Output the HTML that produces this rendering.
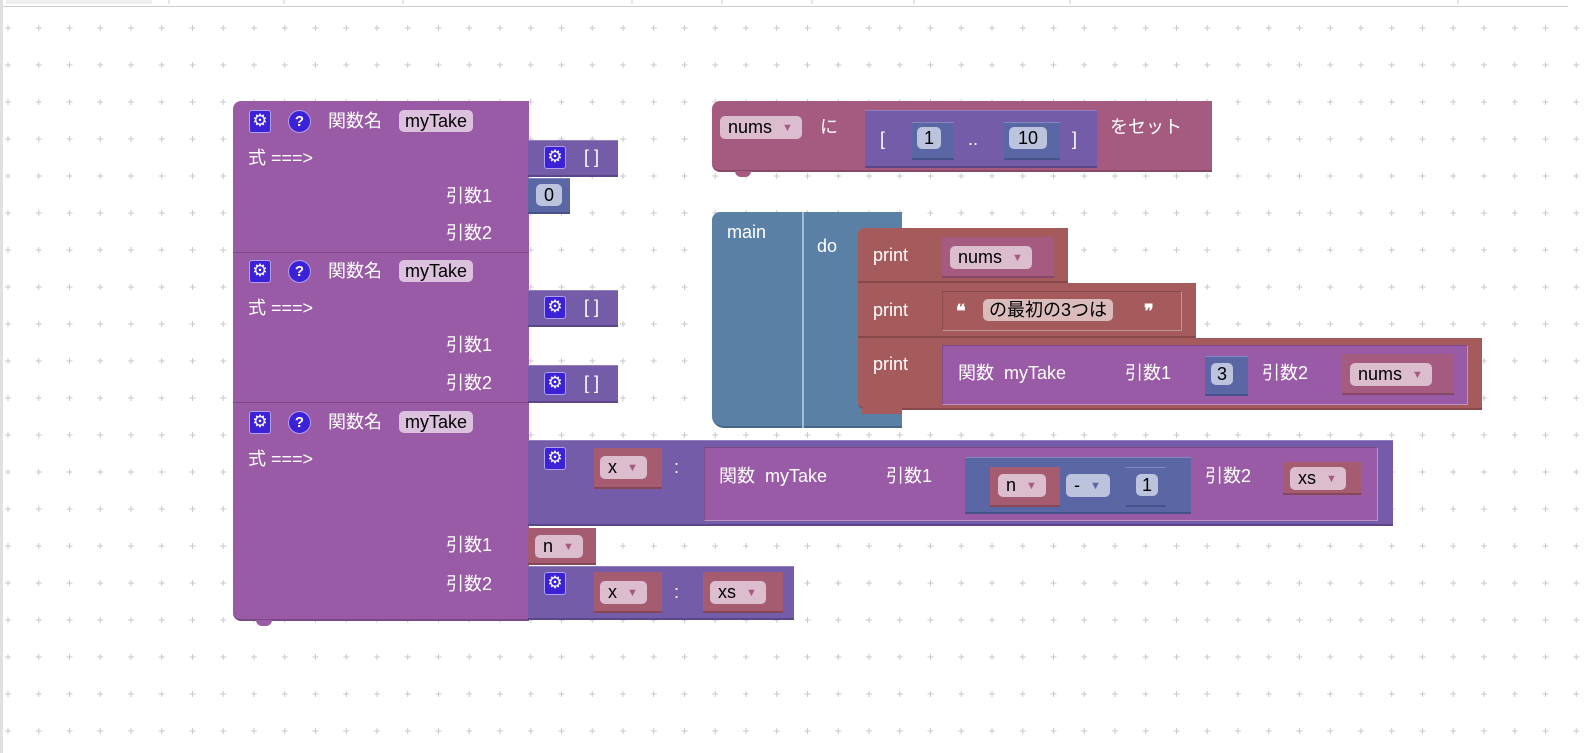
<!DOCTYPE html>
<html><head><meta charset="utf-8">
<style>
body{margin:0;width:1594px;height:753px;overflow:hidden;background:#fff;font-family:"Liberation Sans","Noto Sans CJK JP",sans-serif;position:relative}
.a{position:absolute;box-sizing:border-box}
.t{position:absolute;color:#fff;font-size:18px;line-height:22px;white-space:nowrap}
.fn{background:#995ba5;border-bottom:2px solid #7a4884}
.ls{background:#745ca8;border-bottom:2px solid #5a4688;border-top:1px solid #9080c0}
.nm{background:#5b67a5;border-bottom:2px solid #48528a;border-top:1px solid #8088c0}
.vr{background:#a55b80;border-bottom:2px solid #864868}
.vx{background:#a55b70;border-bottom:2px solid #864858}
.pr{background:#a55b5b;border-bottom:2px solid #864848}
.mn{background:#5b80a5;border-bottom:2px solid #486688}
.f{position:absolute;border-radius:5px;color:#000;font-size:18px;line-height:22px;padding:0 9px 0 8px;white-space:nowrap}
.fv{background:#dbbdcd}
.fn2{background:#dcc1df}
.fnum{background:#bcc3dc}
.fs{background:#dbbcbc}
.dd{color:#a55b80;font-size:11px;margin-left:10px;vertical-align:2px}
.g{position:absolute;width:22px;height:23px;background:#3b22d6;border:1px solid #b0a0f0;border-radius:3px;box-sizing:border-box;color:#fff;font-family:"DejaVu Sans",sans-serif;font-size:17px;line-height:20px;text-align:center}
.q{position:absolute;width:23px;height:23px;background:#3b22d6;border:1px solid #b0a0f0;border-radius:50%;box-sizing:border-box;color:#fff;font-weight:bold;font-size:15px;line-height:21px;text-align:center}
.in{position:absolute;border:1px solid rgba(255,255,255,.35);border-left-color:rgba(0,0,0,.15);border-top-color:rgba(0,0,0,.2)}
</style></head><body>
<svg class="a" style="left:0;top:0" width="1594" height="753">
<defs><pattern id="p" patternUnits="userSpaceOnUse" x="4" y="24" width="30.75" height="37">
<path d="M4 1v6M1 4h6" stroke="#c8c8c8" stroke-width="1"/></pattern></defs>
<rect x="0" y="0" width="1594" height="753" fill="url(#p)"/>
<rect x="0" y="0" width="1594" height="6" fill="#fff"/>
<line x1="0" y1="6.5" x2="1568" y2="6.5" stroke="#ccc"/>
<rect x="6" y="0" width="146" height="4" fill="#eee"/>
<rect x="0" y="0" width="3" height="753" fill="#e0e0e0"/>
<g stroke="#ccc"><line x1="169" y1="0" x2="169" y2="4"/><line x1="284" y1="0" x2="284" y2="4"/><line x1="403" y1="0" x2="403" y2="4"/><line x1="632" y1="0" x2="632" y2="4"/><line x1="722" y1="0" x2="722" y2="4"/><line x1="812" y1="0" x2="812" y2="4"/><line x1="914" y1="0" x2="914" y2="4"/><line x1="1070" y1="0" x2="1070" y2="4"/><line x1="1458" y1="0" x2="1458" y2="4"/></g>
</svg>

<!-- function def blocks -->
<div class="a fn" style="left:233px;top:101px;width:296px;height:152px;border-radius:8px 0 0 0;border-bottom:1px solid #7a4884"></div>
<div class="a fn" style="left:233px;top:253px;width:296px;height:150px;border-bottom:1px solid #7a4884"></div>
<div class="a fn" style="left:233px;top:403px;width:296px;height:218px;border-radius:0 0 0 8px"></div>
<div class="a" style="left:256px;top:620px;width:16px;height:6px;background:#995ba5;border-radius:0 0 6px 6px"></div>

<div class="g" style="left:249px;top:110px">⚙</div><div class="q" style="left:288px;top:110px">?</div>
<div class="t" style="left:328px;top:110px">関数名</div><div class="f fn2" style="left:399px;top:110px;padding:0 6px">myTake</div>
<div class="t" style="left:248px;top:147px">式 ===&gt;</div>
<div class="t" style="left:446px;top:185px">引数1</div><div class="t" style="left:446px;top:222px">引数2</div>

<div class="g" style="left:249px;top:260px">⚙</div><div class="q" style="left:288px;top:260px">?</div>
<div class="t" style="left:328px;top:260px">関数名</div><div class="f fn2" style="left:399px;top:260px;padding:0 6px">myTake</div>
<div class="t" style="left:248px;top:297px">式 ===&gt;</div>
<div class="t" style="left:446px;top:334px">引数1</div><div class="t" style="left:446px;top:372px">引数2</div>

<div class="g" style="left:249px;top:411px">⚙</div><div class="q" style="left:288px;top:411px">?</div>
<div class="t" style="left:328px;top:411px">関数名</div><div class="f fn2" style="left:399px;top:411px;padding:0 6px">myTake</div>
<div class="t" style="left:248px;top:448px">式 ===&gt;</div>
<div class="t" style="left:446px;top:534px">引数1</div><div class="t" style="left:446px;top:573px">引数2</div>

<!-- attached -->
<div class="a ls" style="left:528px;top:140px;width:90px;height:37px"></div>
<div class="g" style="left:544px;top:146px">⚙</div><div class="t" style="left:584px;top:146px">[ ]</div>
<div class="a nm" style="left:528px;top:178px;width:42px;height:36px"></div>
<div class="f fnum" style="left:536px;top:184px;padding:0 8px">0</div>

<div class="a ls" style="left:528px;top:290px;width:90px;height:37px"></div>
<div class="g" style="left:544px;top:296px">⚙</div><div class="t" style="left:584px;top:296px">[ ]</div>
<div class="a ls" style="left:528px;top:365px;width:90px;height:38px"></div>
<div class="g" style="left:544px;top:372px">⚙</div><div class="t" style="left:584px;top:372px">[ ]</div>

<div class="a ls" style="left:528px;top:440px;width:865px;height:86px"></div>
<div class="g" style="left:544px;top:447px">⚙</div>
<div class="a vx" style="left:594px;top:448px;width:68px;height:41px"></div>
<div class="f fv" style="left:600px;top:456px">x<span class="dd">▼</span></div>
<div class="t" style="left:674px;top:456px">:</div>
<div class="a fn in" style="left:704px;top:447px;width:674px;height:74px"></div>
<div class="t" style="left:719px;top:465px">関数&nbsp;&nbsp;myTake</div>
<div class="t" style="left:886px;top:465px">引数1</div>
<div class="a nm" style="left:965px;top:457px;width:226px;height:57px"></div>
<div class="a vx" style="left:990px;top:467px;width:70px;height:40px"></div>
<div class="f fv" style="left:998px;top:474px">n<span class="dd">▼</span></div>
<div class="f" style="left:1066px;top:474px;background:#bcc3dc;color:#000">-<span class="dd" style="color:#5b67a5">▼</span></div>
<div class="a nm" style="left:1126px;top:467px;width:40px;height:40px"></div>
<div class="f fnum" style="left:1136px;top:474px;padding:0 6px">1</div>
<div class="t" style="left:1205px;top:465px">引数2</div>
<div class="a vx" style="left:1283px;top:462px;width:78px;height:33px"></div>
<div class="f fv" style="left:1290px;top:467px">xs<span class="dd">▼</span></div>

<div class="a vx" style="left:528px;top:528px;width:68px;height:37px"></div>
<div class="f fv" style="left:535px;top:535px">n<span class="dd">▼</span></div>

<div class="a ls" style="left:528px;top:566px;width:266px;height:54px"></div>
<div class="g" style="left:544px;top:572px">⚙</div>
<div class="a vx" style="left:594px;top:572px;width:68px;height:41px"></div>
<div class="f fv" style="left:600px;top:581px">x<span class="dd">▼</span></div>
<div class="t" style="left:674px;top:581px">:</div>
<div class="a vx" style="left:703px;top:572px;width:80px;height:41px"></div>
<div class="f fv" style="left:710px;top:581px">xs<span class="dd">▼</span></div>

<!-- set block -->
<div class="a vr" style="left:712px;top:101px;width:500px;height:71px;border-radius:8px 0 0 8px"></div>
<div class="a" style="left:735px;top:171px;width:16px;height:6px;background:#a55b80;border-radius:0 0 6px 6px"></div>
<div class="f fv" style="left:720px;top:116px">nums<span class="dd">▼</span></div>
<div class="t" style="left:820px;top:116px">に</div>
<div class="a ls" style="left:865px;top:110px;width:232px;height:58px"></div>
<div class="t" style="left:880px;top:128px">[</div>
<div class="a nm" style="left:912px;top:122px;width:42px;height:38px"></div>
<div class="f fnum" style="left:917px;top:127px;padding:0 7px">1</div>
<div class="t" style="left:968px;top:128px">..</div>
<div class="a nm" style="left:1004px;top:122px;width:56px;height:38px"></div>
<div class="f fnum" style="left:1009px;top:127px;padding:0 9px">10</div>
<div class="t" style="left:1072px;top:128px">]</div>
<div class="t" style="left:1110px;top:116px">をセット</div>

<!-- main block -->
<div class="a mn" style="left:712px;top:212px;width:190px;height:216px;border-radius:8px 0 0 12px"></div>
<div class="a" style="left:802px;top:212px;width:2px;height:216px;background:#a8bcd0"></div>
<div class="t" style="left:727px;top:221px">main</div>
<div class="t" style="left:817px;top:235px">do</div>
<div class="a pr" style="left:858px;top:228px;width:210px;height:55px;border-radius:6px 0 0 0"></div>
<div class="a vr" style="left:942px;top:237px;width:112px;height:41px"></div>
<div class="f fv" style="left:950px;top:246px">nums<span class="dd">▼</span></div>
<div class="t" style="left:873px;top:244px">print</div>
<div class="a pr" style="left:858px;top:283px;width:338px;height:55px"></div>
<div class="a pr in" style="left:942px;top:291px;width:240px;height:40px;border-bottom:1px solid rgba(255,255,255,.35)"></div>
<div class="t" style="left:956px;top:300px;font-weight:bold">❝</div>
<div class="f fs" style="left:983px;top:299px;padding:0 6px">の最初の3つは</div>
<div class="t" style="left:1144px;top:300px;font-weight:bold">❞</div>
<div class="t" style="left:873px;top:299px">print</div>
<div class="a pr" style="left:858px;top:338px;width:624px;height:72px;border-radius:0 0 0 8px"></div>
<div class="a" style="left:862px;top:408px;width:40px;height:6px;background:#a55b5b"></div>
<div class="t" style="left:873px;top:353px">print</div>
<div class="a fn in" style="left:942px;top:345px;width:526px;height:60px"></div>
<div class="t" style="left:958px;top:362px">関数&nbsp;&nbsp;myTake</div>
<div class="t" style="left:1125px;top:362px">引数1</div>
<div class="a nm" style="left:1205px;top:356px;width:43px;height:40px"></div>
<div class="f fnum" style="left:1211px;top:363px;padding:0 6px">3</div>
<div class="t" style="left:1262px;top:362px">引数2</div>
<div class="a vr" style="left:1342px;top:354px;width:112px;height:41px"></div>
<div class="f fv" style="left:1350px;top:363px">nums<span class="dd">▼</span></div>
</body></html>
